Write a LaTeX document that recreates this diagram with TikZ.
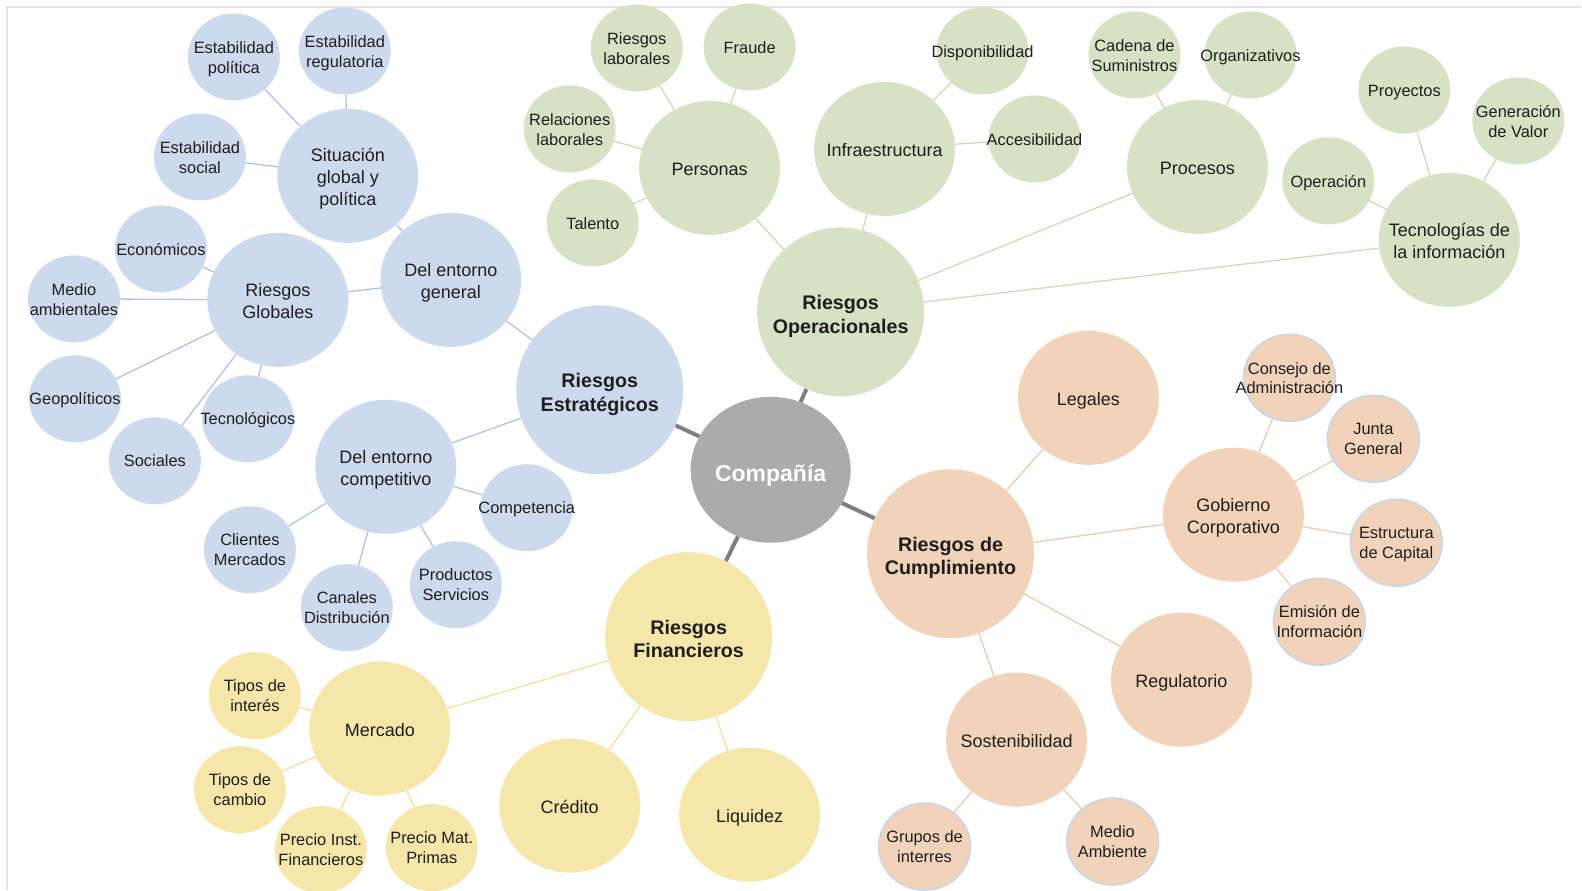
\documentclass[tikz,border=0pt]{standalone}
\usepackage{fontspec}
\setmainfont{Liberation Sans}
\usetikzlibrary{shapes.geometric}
\pgfdeclarelayer{bglayer}
\pgfdeclarelayer{edgelayer}
\pgfsetlayers{bglayer,edgelayer,main}
\definecolor{bfill}{HTML}{CDDAEE}
\definecolor{gfill}{HTML}{D5E3C4}
\definecolor{ofill}{HTML}{F0D3B8}
\definecolor{yfill}{HTML}{F6E6AA}
\definecolor{cfill}{HTML}{ABABAB}
\definecolor{bline}{HTML}{AEC4E7}
\definecolor{gline}{HTML}{CADDB5}
\definecolor{oline}{HTML}{EECBAC}
\definecolor{yline}{HTML}{F5E09F}
\definecolor{kline}{HTML}{7F7F7F}
\definecolor{framecol}{HTML}{E3E3E3}
\definecolor{txt}{HTML}{1E1E1E}
\definecolor{obord}{HTML}{C6D6EE}
\def\bubraise{0pt}
\newcommand{\bubtxt}[1]{\makebox[0pt][c]{\raisebox{\bubraise}[0pt][0pt]{\begin{tabular}{@{}c@{}}#1\end{tabular}}}}
\begin{document}
\begin{tikzpicture}[x=1pt,y=-1pt,
  bub/.style={ellipse, inner sep=0pt, outer sep=0pt, text=txt},
  sm/.style={bub, minimum width=92pt, minimum height=87pt, font=\fontsize{16.4}{20}\selectfont,
    execute at begin node={\def\bubraise{-6.5pt}}},
  md/.style={bub, minimum width=141pt, minimum height=134pt, font=\fontsize{18}{22}\selectfont,
    execute at begin node={\def\bubraise{-7.8pt}}},
  lg/.style={bub, minimum width=167pt, minimum height=169pt, font=\bfseries\fontsize{19.7}{23.5}\selectfont,
    execute at begin node={\def\bubraise{-10pt}}},
  ctr/.style={bub, minimum width=160pt, minimum height=146pt, fill=cfill, text=white, font=\bfseries\fontsize{23}{27}\selectfont,
    execute at begin node={\def\bubraise{-13pt}}},
  bb/.style={fill=bfill}, gg/.style={fill=gfill}, yy/.style={fill=yfill},
  oo/.style={fill=ofill}, ob/.style={fill=ofill, draw=obord, line width=1.5pt},
  bl/.style={draw=bline, line width=1.3pt},
  gl/.style={draw=gline, line width=1.3pt},
  ol/.style={draw=oline, line width=1.3pt},
  yl/.style={draw=yline, line width=1.3pt},
  kl/.style={draw=kline, line width=4pt}
]
\begin{pgfonlayer}{bglayer}
\fill[white] (0,0) rectangle (1582,890);
\draw[framecol, line width=1.5pt] (7,890) -- (7,7) -- (1582,7);
\end{pgfonlayer}
\useasboundingbox (0,0) rectangle (1582,890);

% center
\node[ctr] (cia) at (771,470) {\bubtxt{Compañía}};

% blue
\node[sm,bb] (epol) at (234,57) {\bubtxt{Estabilidad\\política}};
\node[sm,bb] (ereg) at (345,51) {\bubtxt{Estabilidad\\regulatoria}};
\node[sm,bb] (esoc) at (200,157) {\bubtxt{Estabilidad\\social}};
\node[md,bb] (sit) at (348,176) {\bubtxt{Situación\\global y\\política}};
\node[sm,bb] (eco) at (161,249) {\bubtxt{Económicos}};
\node[sm,bb] (mamb) at (74,299) {\bubtxt{Medio\\ambientales}};
\node[md,bb] (rglob) at (278,300) {\bubtxt{Riesgos\\Globales}};
\node[md,bb] (deg) at (451,280) {\bubtxt{Del entorno\\general}};
\node[sm,bb] (geo) at (75,399) {\bubtxt{Geopolíticos}};
\node[sm,bb] (tec) at (248,419) {\bubtxt{Tecnológicos}};
\node[sm,bb] (soc) at (155,461) {\bubtxt{Sociales}};
\node[lg,bb] (re) at (600,390) {\bubtxt{Riesgos\\Estratégicos}};
\node[md,bb] (dec) at (386,467) {\bubtxt{Del entorno\\competitivo}};
\node[sm,bb] (comp) at (527,508) {\bubtxt{Competencia}};
\node[sm,bb] (prod) at (456,585) {\bubtxt{Productos\\Servicios}};
\node[sm,bb] (can) at (347,608) {\bubtxt{Canales\\Distribución}};
\node[sm,bb] (cli) at (250,550) {\bubtxt{Clientes\\Mercados}};

% green
\node[sm,gg] (rlab) at (637,48) {\bubtxt{Riesgos\\laborales}};
\node[sm,gg] (fra) at (750,47) {\bubtxt{Fraude}};
\node[sm,gg] (rel) at (570,129) {\bubtxt{Relaciones\\laborales}};
\node[md,gg] (per) at (710,168) {\bubtxt{Personas}};
\node[sm,gg] (tal) at (593,223) {\bubtxt{Talento}};
\node[sm,gg] (disp) at (983,51) {\bubtxt{Disponibilidad}};
\node[md,gg] (infra) at (885,149) {\bubtxt{Infraestructura}};
\node[sm,gg] (acc) at (1035,139) {\bubtxt{Accesibilidad}};
\node[lg,gg] (ro) at (841,312) {\bubtxt{Riesgos\\Operacionales}};
\node[sm,gg] (cad) at (1135,55) {\bubtxt{Cadena de\\Suministros}};
\node[sm,gg] (org) at (1251,55) {\bubtxt{Organizativos}};
\node[md,gg] (proc) at (1198,167) {\bubtxt{Procesos}};
\node[sm,gg] (oper) at (1329,181) {\bubtxt{Operación}};
\node[sm,gg] (proy) at (1405,90) {\bubtxt{Proyectos}};
\node[sm,gg] (gen) at (1519,121) {\bubtxt{Generación\\de Valor}};
\node[md,gg] (ti) at (1450,240) {\bubtxt{Tecnologías de\\la información}};

% orange
\node[md,oo] (leg) at (1089,398) {\bubtxt{Legales}};
\node[lg,oo] (rc) at (951,554) {\bubtxt{Riesgos de\\Cumplimiento}};
\node[sm,ob] (cons) at (1290,378) {\bubtxt{Consejo de\\Administración}};
\node[sm,ob] (junta) at (1374,439) {\bubtxt{Junta\\General}};
\node[md,oo] (gob) at (1234,515) {\bubtxt{Gobierno\\Corporativo}};
\node[sm,ob] (estr) at (1397,543) {\bubtxt{Estructura\\de Capital}};
\node[sm,ob] (emi) at (1320,622) {\bubtxt{Emisión de\\Información}};
\node[md,oo] (regu) at (1182,680) {\bubtxt{Regulatorio}};
\node[md,oo] (sost) at (1017,740) {\bubtxt{Sostenibilidad}};
\node[sm,ob] (grup) at (925,847) {\bubtxt{Grupos de\\interres}};
\node[sm,ob] (mamb2) at (1113,842) {\bubtxt{Medio\\Ambiente}};

% yellow
\node[lg,yy] (rf) at (689,637) {\bubtxt{Riesgos\\Financieros}};
\node[md,yy] (cred) at (570,806) {\bubtxt{Crédito}};
\node[md,yy] (liq) at (750,815) {\bubtxt{Liquidez}};
\node[md,yy] (merc) at (380,729) {\bubtxt{Mercado}};
\node[sm,yy] (tint) at (255,696) {\bubtxt{Tipos de\\interés}};
\node[sm,yy] (tcam) at (240,790) {\bubtxt{Tipos de\\cambio}};
\node[sm,yy] (pinst) at (321,850) {\bubtxt{Precio Inst.\\Financieros}};
\node[sm,yy] (pmat) at (432,848) {\bubtxt{Precio Mat.\\Primas}};

\begin{pgfonlayer}{edgelayer}
\draw[kl] (cia) -- (re);
\draw[kl] (cia) -- (ro);
\draw[kl] (cia) -- (rc);
\draw[kl] (cia) -- (rf);
% blue
\draw[bl] (re) -- (deg);
\draw[bl] (re) -- (dec);
\draw[bl] (deg) -- (sit);
\draw[bl] (deg) -- (rglob);
\draw[bl] (sit) -- (epol);
\draw[bl] (sit) -- (ereg);
\draw[bl] (sit) -- (esoc);
\draw[bl] (rglob) -- (eco);
\draw[bl] (rglob) -- (mamb);
\draw[bl] (rglob) -- (geo);
\draw[bl] (rglob) -- (soc);
\draw[bl] (rglob) -- (tec);
\draw[bl] (dec) -- (comp);
\draw[bl] (dec) -- (prod);
\draw[bl] (dec) -- (can);
\draw[bl] (dec) -- (cli);
% green
\draw[gl] (ro) -- (per);
\draw[gl] (ro) -- (infra);
\draw[gl] (ro) -- (proc);
\draw[gl] (ro) -- (ti);
\draw[gl] (per) -- (rlab);
\draw[gl] (per) -- (fra);
\draw[gl] (per) -- (rel);
\draw[gl] (per) -- (tal);
\draw[gl] (infra) -- (disp);
\draw[gl] (infra) -- (acc);
\draw[gl] (proc) -- (cad);
\draw[gl] (proc) -- (org);
\draw[gl] (ti) -- (oper);
\draw[gl] (ti) -- (proy);
\draw[gl] (ti) -- (gen);
% orange
\draw[ol] (rc) -- (leg);
\draw[ol] (rc) -- (gob);
\draw[ol] (rc) -- (regu);
\draw[ol] (rc) -- (sost);
\draw[ol] (gob) -- (cons);
\draw[ol] (gob) -- (junta);
\draw[ol] (gob) -- (estr);
\draw[ol] (gob) -- (emi);
\draw[ol] (sost) -- (grup);
\draw[ol] (sost) -- (mamb2);
% yellow
\draw[yl] (rf) -- (merc);
\draw[yl] (rf) -- (cred);
\draw[yl] (rf) -- (liq);
\draw[yl] (merc) -- (tint);
\draw[yl] (merc) -- (tcam);
\draw[yl] (merc) -- (pinst);
\draw[yl] (merc) -- (pmat);
\end{pgfonlayer}
\end{tikzpicture}
\end{document}
